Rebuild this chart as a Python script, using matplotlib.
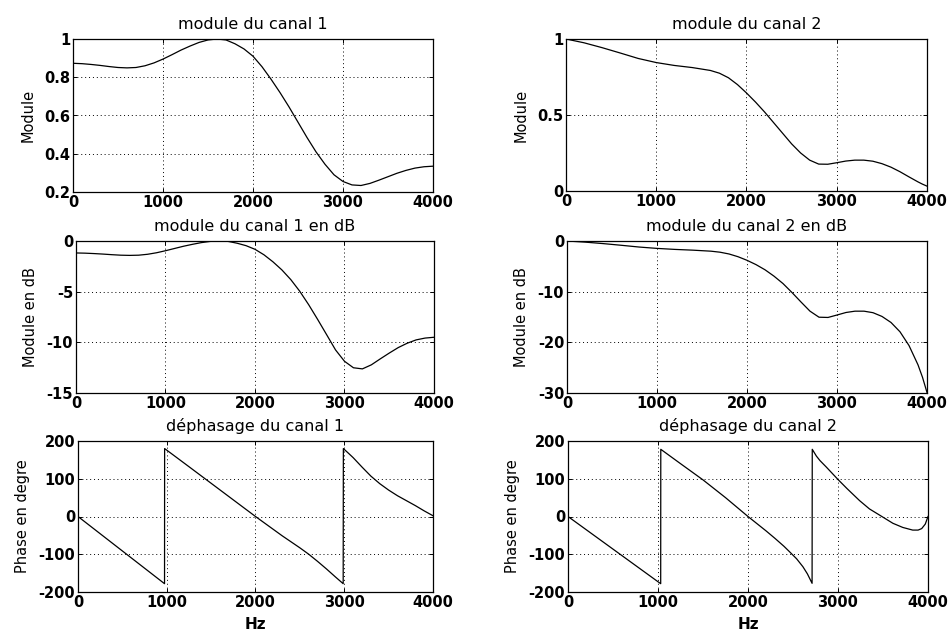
import numpy as np
import matplotlib
matplotlib.use("Agg")
import matplotlib.pyplot as plt
from matplotlib.ticker import FuncFormatter

# --- canal 1 : module (lineaire et dB), lu tous les 100 Hz ---
freq_mod1 = [0, 100, 200, 300, 400, 500, 600, 700, 800, 900, 1000, 1100, 1200, 1300, 1400,
             1500, 1600, 1700, 1800, 1900, 2000, 2100, 2200, 2300, 2400, 2500, 2600, 2700,
             2800, 2900, 3000, 3100, 3200, 3300, 3400, 3500, 3600, 3700, 3800, 3900, 4000]
mod1 = [0.873, 0.871, 0.867, 0.862, 0.856, 0.851, 0.849, 0.851, 0.860, 0.875, 0.895, 0.918,
        0.942, 0.963, 0.982, 0.995, 1.0, 0.995, 0.975, 0.948, 0.910, 0.855, 0.790, 0.720,
        0.645, 0.565, 0.485, 0.410, 0.345, 0.290, 0.255, 0.237, 0.234, 0.245, 0.262, 0.280,
        0.298, 0.313, 0.325, 0.332, 0.335]
mod1_db = [-1.18, -1.20, -1.24, -1.29, -1.35, -1.40, -1.42, -1.40, -1.31, -1.16, -0.96, -0.74,
           -0.52, -0.33, -0.16, -0.04, 0.0, -0.04, -0.22, -0.46, -0.82, -1.36, -2.05, -2.85,
           -3.81, -4.96, -6.29, -7.74, -9.24, -10.75, -11.87, -12.51, -12.62, -12.22, -11.63,
           -11.06, -10.52, -10.09, -9.76, -9.58, -9.50]

# --- canal 2 : module (lineaire et dB) ---
freq_mod2 = [0, 200, 400, 600, 800, 1000, 1200, 1400, 1600, 1700, 1800, 1900, 2000, 2100,
             2200, 2300, 2400, 2500, 2600, 2700, 2800, 2900, 3000, 3100, 3200, 3300, 3400,
             3500, 3600, 3700, 3800, 3900, 3950, 4000]
mod2 = [1.0, 0.975, 0.943, 0.908, 0.872, 0.845, 0.826, 0.812, 0.793, 0.775, 0.745, 0.700,
        0.645, 0.585, 0.520, 0.450, 0.380, 0.310, 0.250, 0.203, 0.177, 0.176, 0.186, 0.197,
        0.203, 0.203, 0.196, 0.180, 0.157, 0.127, 0.093, 0.060, 0.045, 0.032]
mod2_db = [0.0, -0.22, -0.51, -0.84, -1.19, -1.46, -1.66, -1.81, -2.01, -2.21, -2.56, -3.10,
           -3.81, -4.66, -5.68, -6.94, -8.40, -10.17, -12.04, -13.85, -15.04, -15.09, -14.61,
           -14.11, -13.85, -13.85, -14.15, -14.89, -16.08, -17.92, -20.63, -24.44, -26.9, -29.9]

# --- dephasage (degres) ---
freq_ph1 = [0, 975, 976, 1250, 1500, 1750, 2000, 2100, 2200, 2300, 2400, 2500, 2600, 2700,
            2800, 2900, 2988, 2990, 3050, 3100, 3200, 3300, 3400, 3500, 3600, 3700, 3800, 3900, 4000]
ph1 = [0, -178, 180, 132, 88, 44, 0, -17, -34, -51, -67, -83, -100, -119,
       -139, -160, -178, 180, 167, 156, 131, 107, 87, 70, 55, 42, 29, 15, 2]

freq_ph2 = [0, 1030, 1031, 1250, 1500, 1750, 2000, 2100, 2200, 2300, 2400, 2460, 2540, 2610,
            2660, 2712, 2714, 2760, 2800, 2870, 3000, 3100, 3240, 3350, 3460, 3610, 3720, 3830,
            3890, 3930, 3970, 4000]
ph2 = [0, -178, 178, 140, 97, 50, 0, -19, -38, -58, -79, -93, -112, -133,
       -152, -177, 178, 160, 148, 131, 98, 74, 42, 20, 4, -18, -29, -36,
       -36, -32, -20, 0]

plt.rcParams['font.family'] = 'DejaVu Sans'

W, H = 953, 636
fig = plt.figure(figsize=(W / 100, H / 100), dpi=100)


def box(left, right, top, bottom):
    # pixel box -> figure fraction
    return [left / W, 1 - bottom / H, (right - left) / W, (bottom - top) / H]


panels = [
    # (pixel box, x, y, ylim, yticks, title, ylabel, xlabel)
    (box(73, 433, 39, 192), freq_mod1, mod1, (0.2, 1), [0.2, 0.4, 0.6, 0.8, 1],
     "module du canal 1", "Module", None),
    (box(566, 927, 39, 191), freq_mod2, mod2, (0, 1), [0, 0.5, 1],
     "module du canal 2", "Module", None),
    (box(76, 434, 241, 393), freq_mod1, mod1_db, (-15, 0), [-15, -10, -5, 0],
     "module du canal 1 en dB", "Module en dB", None),
    (box(567, 927, 241, 393), freq_mod2, mod2_db, (-30, 0), [-30, -20, -10, 0],
     "module du canal 2 en dB", "Module en dB", None),
    (box(78, 433, 441, 592), freq_ph1, ph1, (-200, 200), [-200, -100, 0, 100, 200],
     "déphasage du canal 1", "Phase en degre", "Hz"),
    (box(568, 928, 441, 592), freq_ph2, ph2, (-200, 200), [-200, -100, 0, 100, 200],
     "déphasage du canal 2", "Phase en degre", "Hz"),
]

fmt = FuncFormatter(lambda v, p: "%g" % v)

for pos, x, y, ylim, yticks, title, ylabel, xlabel in panels:
    ax = fig.add_axes(pos)
    ax.plot(x, y, color='black', linewidth=0.9)
    ax.set_xlim(0, 4000)
    ax.set_ylim(*ylim)
    ax.set_xticks([0, 1000, 2000, 3000, 4000])
    ax.set_yticks(yticks)
    ax.xaxis.set_major_formatter(fmt)
    ax.yaxis.set_major_formatter(fmt)
    ax.grid(True, color='black', linestyle=(0, (1, 3)), linewidth=0.7)
    ax.tick_params(direction='in', length=3, width=0.7, top=True, right=True,
                   labelsize=10.5, pad=2)
    for lab in ax.get_xticklabels() + ax.get_yticklabels():
        lab.set_fontweight('bold')
    for sp in ax.spines.values():
        sp.set_linewidth(0.9)
    ax.set_title(title, fontsize=11.5, pad=7)
    ax.set_ylabel(ylabel, fontsize=10.5, labelpad=6)
    if xlabel:
        ax.set_xlabel(xlabel, fontsize=11, fontweight='bold', labelpad=5)

fig.savefig("out.png", dpi=100, facecolor='white')
